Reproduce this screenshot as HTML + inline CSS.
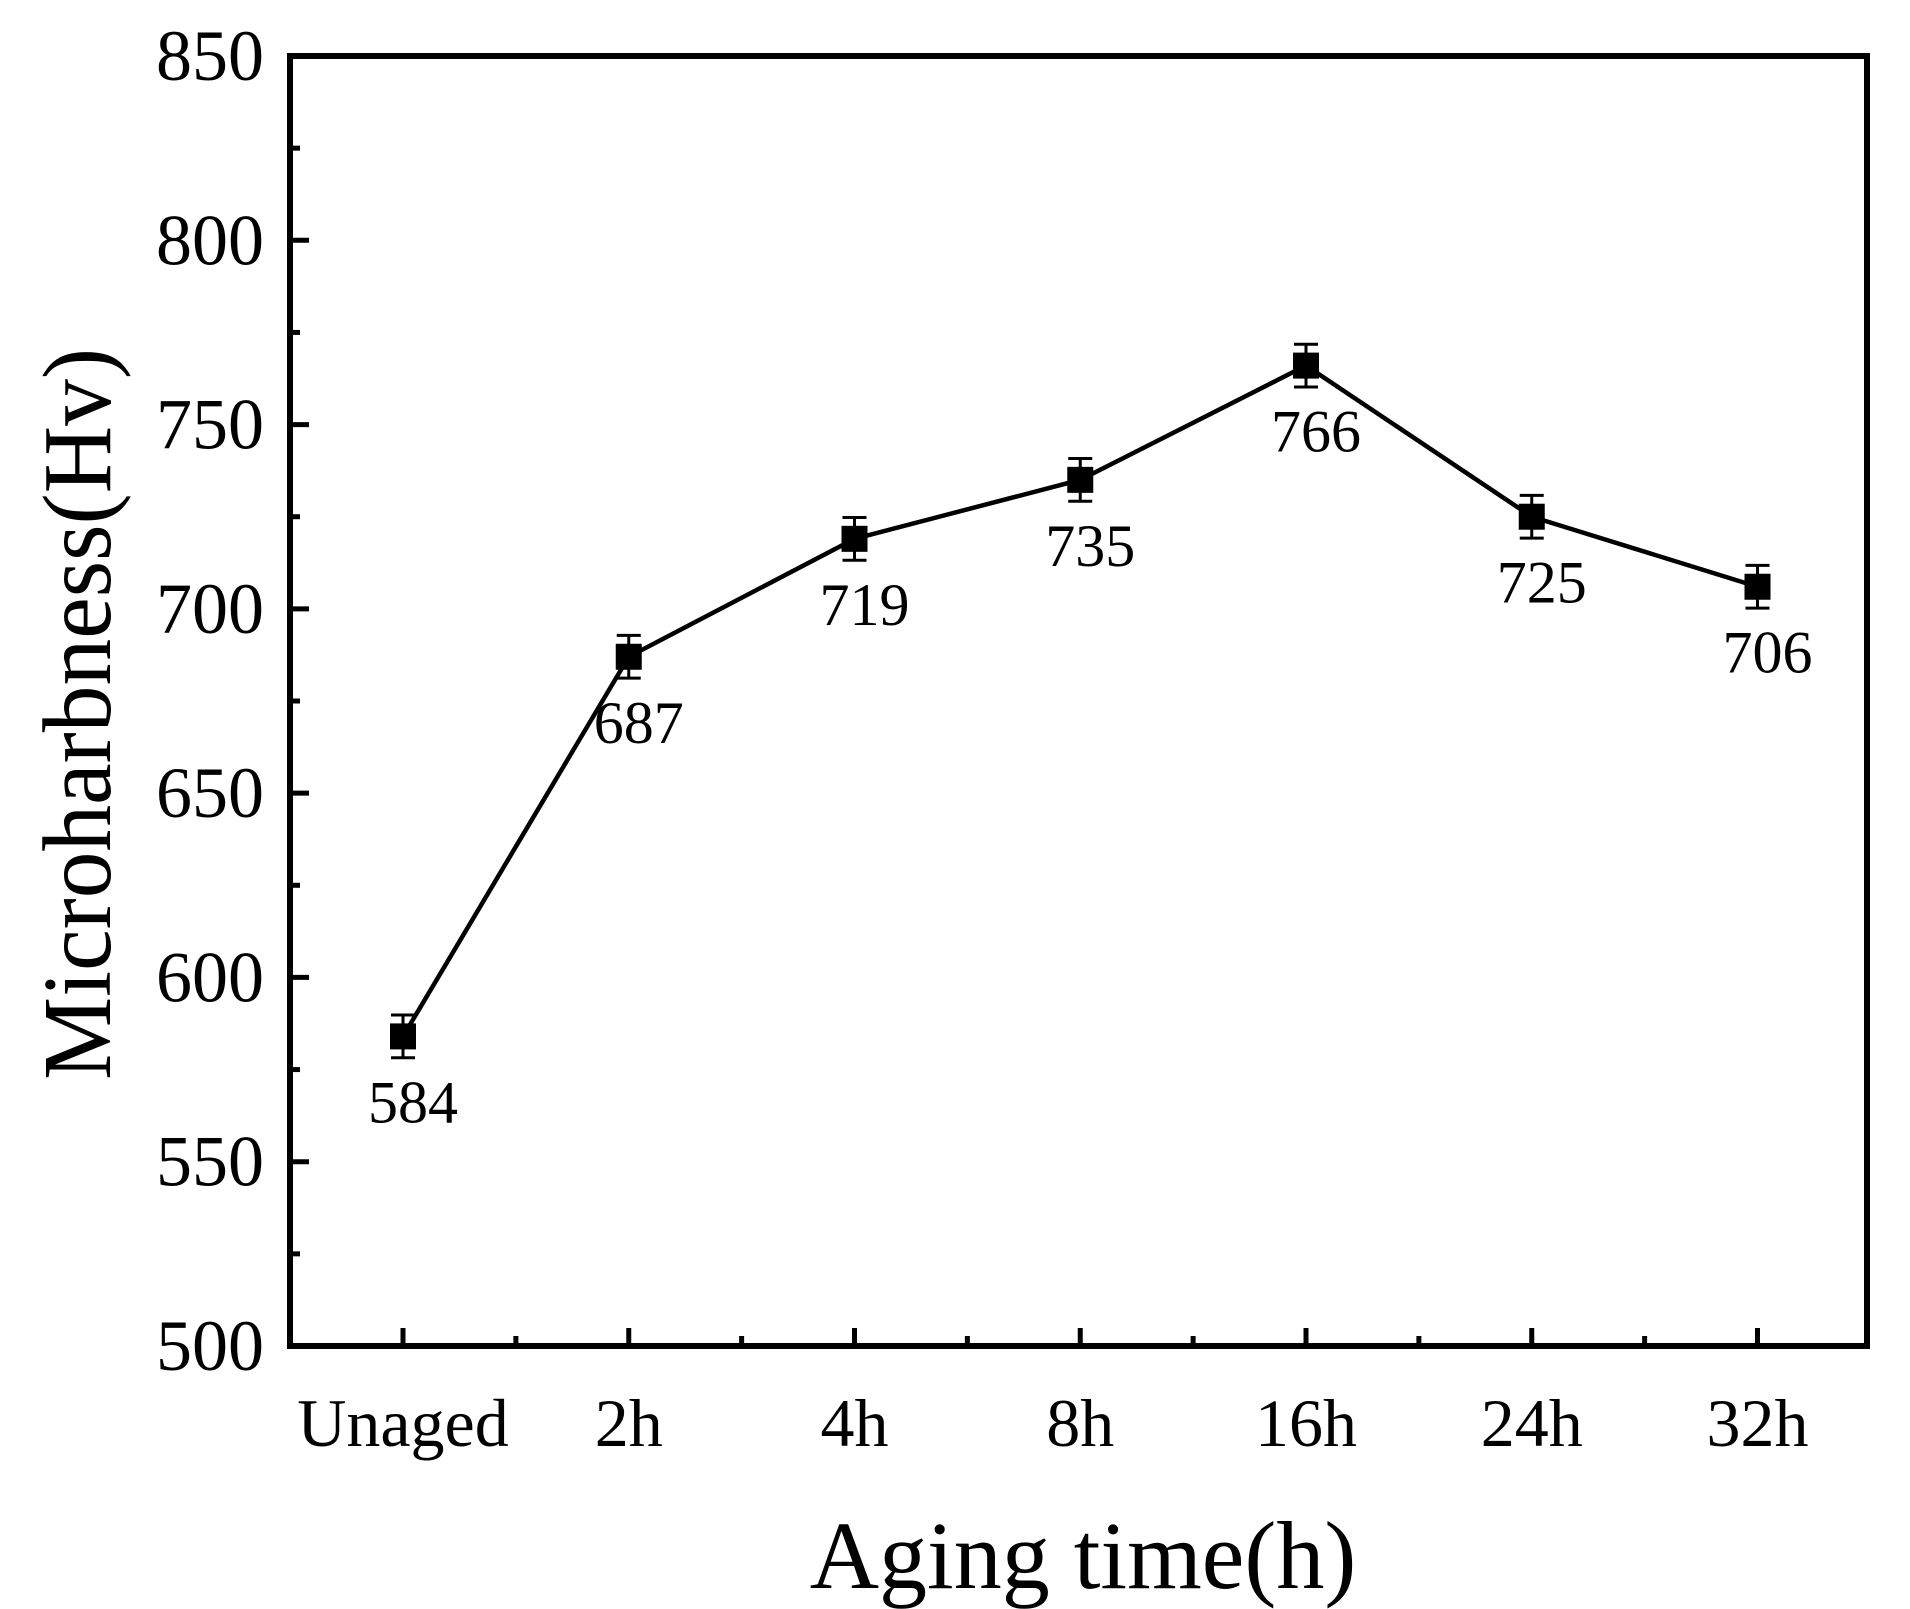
<!DOCTYPE html>
<html><head><meta charset="utf-8"><style>
html,body{margin:0;padding:0;background:#fff;}
svg{display:block;font-family:"Liberation Serif",serif;}
</style></head><body>
<svg id="chart" width="1910" height="1609" viewBox="0 0 1910 1609" xmlns="http://www.w3.org/2000/svg">
<g id="axes"></g>
<g id="series"></g>
<text x="1083" y="1588" font-size="96" text-anchor="middle">Aging time(h)</text>
<text transform="translate(110,714) rotate(-90)" font-size="98" text-anchor="middle" textLength="732" lengthAdjust="spacingAndGlyphs">Microharbness(Hv)</text>
</svg>
<script>
const categories = ["Unaged","2h","4h","8h","16h","24h","32h"];
const values = [584,687,719,735,766,725,706];
const errors = [5.8,5.8,5.8,5.8,5.8,5.8,5.8];
const yTicks = [500,550,600,650,700,750,800,850];

const NS="http://www.w3.org/2000/svg";
const L=290,R=1867,T=56,B=1346;
const yMin=500,yMax=850;
function y(v){return B-(v-yMin)/(yMax-yMin)*(B-T);}
const x0=403,step=225.75;
function x(i){return x0+i*step;}
function mk(tag,attrs,parent){const e=document.createElementNS(NS,tag);for(const k in attrs)e.setAttribute(k,attrs[k]);parent.appendChild(e);return e;}
const axes=document.getElementById('axes'),series=document.getElementById('series');

let fr=mk('rect',{x:L,y:T,width:R-L,height:B-T,fill:'none',stroke:'#000','stroke-width':6},axes);



yTicks.forEach((v,i)=>{
  let t=mk('line',{x1:L,x2:L+19,y1:y(v),y2:y(v),stroke:'#000','stroke-width':5},axes);
  
  
  if(i<yTicks.length-1){
    let m=mk('line',{x1:L,x2:L+10,y1:y(v+25),y2:y(v+25),stroke:'#000','stroke-width':5},axes);
    
    
  }
  let lb=mk('text',{x:264,y:y(v)+24,'font-size':72,'text-anchor':'end'},axes);
  lb.textContent=v;
  
  
});

categories.forEach((c,i)=>{
  let t=mk('line',{x1:x(i),x2:x(i),y1:B,y2:B-18,stroke:'#000','stroke-width':5},axes);
  
  
  if(i<categories.length-1){
    let m=mk('line',{x1:x(i+0.5),x2:x(i+0.5),y1:B,y2:B-10,stroke:'#000','stroke-width':5},axes);
    
    
  }
  let lb=mk('text',{x:x(i),y:1446,'font-size':68,'text-anchor':'middle'},axes);
  lb.textContent=c;
  
  
});

let pts=values.map((v,i)=>x(i)+','+y(v)).join(' ');
let pl=mk('polyline',{points:pts,fill:'none',stroke:'#000','stroke-width':4.5},series);



values.forEach((v,i)=>{
  const cx=x(i),cy=y(v),e=errors[i];
  let eb=mk('path',{d:`M${cx},${y(v+e)}V${y(v-e)}M${cx-12},${y(v+e)}H${cx+12}M${cx-12},${y(v-e)}H${cx+12}`,stroke:'#000','stroke-width':3,fill:'none'},series);
  
  
  let m=mk('rect',{x:cx-13,y:cy-13,width:26,height:26,fill:'#000'},series);
  
  
  let lb=mk('text',{x:cx+10,y:cy+86,'font-size':60,'text-anchor':'middle'},series);
  lb.textContent=v;
  
  
});
</script>
</body></html>
